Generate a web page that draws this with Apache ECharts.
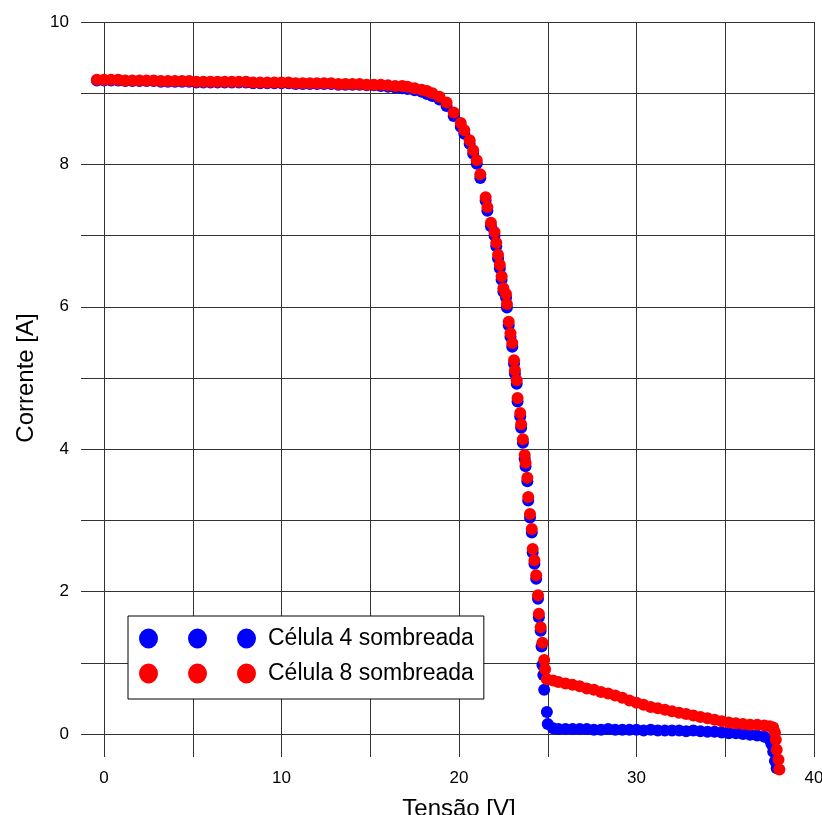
<!DOCTYPE html>
<html lang="pt">
<head>
    <meta charset="UTF-8">
    <title>Curva I-V</title>
    <script src="https://cdn.jsdelivr.net/npm/echarts@6/dist/echarts.min.js"></script>
    <style>
        html, body { margin: 0; padding: 0; background: #ffffff; }
        #chart { width: 822px; height: 815px; }
    </style>
</head>
<body>
<div id="chart"></div>
<script>
    // eixo x: tensao [V], eixo y: corrente [A]
    var xTicks = [0, 10, 20, 30, 40];
    var yTicks = [0, 2, 4, 6, 8, 10];
    var legendNames = ['Célula 4 sombreada', 'Célula 8 sombreada'];

    // Célula 4 sombreada (azul) - pares [V, A]
    var celula4 = [
        [-0.4, 9.18], [0.0, 9.18], [0.4, 9.18], [0.8, 9.18], [1.2, 9.17], [1.6, 9.17],
        [2.0, 9.17], [2.4, 9.17], [2.8, 9.17], [3.2, 9.16], [3.6, 9.16], [4.0, 9.16],
        [4.4, 9.16], [4.8, 9.16], [5.2, 9.15], [5.6, 9.15], [6.0, 9.15], [6.4, 9.15],
        [6.8, 9.15], [7.2, 9.15], [7.6, 9.15], [8.0, 9.15], [8.4, 9.14], [8.8, 9.14],
        [9.2, 9.14], [9.6, 9.14], [10.0, 9.14], [10.4, 9.14], [10.8, 9.13], [11.2, 9.13],
        [11.6, 9.13], [12.0, 9.13], [12.4, 9.13], [12.8, 9.13], [13.2, 9.12], [13.6, 9.12],
        [14.0, 9.12], [14.4, 9.12], [14.8, 9.11], [15.2, 9.11], [15.6, 9.10], [16.0, 9.09],
        [16.4, 9.08], [16.8, 9.07], [17.1, 9.06], [17.5, 9.04], [17.9, 9.02], [18.2, 8.99],
        [18.5, 8.96], [18.9, 8.91], [19.3, 8.82], [19.7, 8.68], [20.1, 8.53], [20.3, 8.43],
        [20.6, 8.29], [20.8, 8.15], [21.0, 8.01], [21.2, 7.81], [21.5, 7.49], [21.6, 7.35],
        [21.8, 7.13], [22.0, 7.00], [22.1, 6.85], [22.2, 6.68], [22.3, 6.54], [22.4, 6.38],
        [22.5, 6.21], [22.65, 6.13], [22.7, 5.99], [22.8, 5.74], [22.9, 5.58], [23.0, 5.44],
        [23.1, 5.20], [23.15, 5.06], [23.25, 4.92], [23.3, 4.67], [23.45, 4.46], [23.5, 4.30],
        [23.6, 4.09], [23.7, 3.87], [23.75, 3.76], [23.85, 3.55], [23.9, 3.28], [24.0, 3.04],
        [24.1, 2.83], [24.15, 2.55], [24.25, 2.39], [24.35, 2.18], [24.45, 1.90], [24.5, 1.64],
        [24.6, 1.45], [24.65, 1.23], [24.7, 0.97], [24.75, 0.83], [24.8, 0.62], [24.95, 0.31],
        [25.0, 0.14], [25.3, 0.08], [25.6, 0.07], [26.0, 0.07], [26.4, 0.07], [26.8, 0.07],
        [27.2, 0.07], [27.6, 0.06], [28.0, 0.06], [28.4, 0.07], [28.8, 0.06], [29.2, 0.06],
        [29.6, 0.06], [30.0, 0.06], [30.4, 0.05], [30.8, 0.06], [31.2, 0.05], [31.6, 0.05],
        [32.0, 0.05], [32.4, 0.05], [32.8, 0.04], [33.2, 0.05], [33.6, 0.04], [34.0, 0.03],
        [34.4, 0.03], [34.8, 0.02], [35.2, 0.01], [35.6, 0.01], [36.0, 0.00], [36.4, -0.01],
        [36.8, -0.02], [37.2, -0.04], [37.5, -0.08], [37.6, -0.14], [37.7, -0.25], [37.8, -0.38],
        [37.9, -0.48]
    ];

    // Célula 8 sombreada (vermelho) - pares [V, A]
    var celula8 = [
        [-0.4, 9.19], [0.0, 9.19], [0.4, 9.19], [0.8, 9.19], [1.2, 9.18], [1.6, 9.18],
        [2.0, 9.18], [2.4, 9.18], [2.8, 9.18], [3.2, 9.17], [3.6, 9.17], [4.0, 9.17],
        [4.4, 9.17], [4.8, 9.17], [5.2, 9.16], [5.6, 9.16], [6.0, 9.16], [6.4, 9.16],
        [6.8, 9.16], [7.2, 9.16], [7.6, 9.16], [8.0, 9.16], [8.4, 9.15], [8.8, 9.15],
        [9.2, 9.15], [9.6, 9.15], [10.0, 9.15], [10.4, 9.15], [10.8, 9.14], [11.2, 9.14],
        [11.6, 9.14], [12.0, 9.14], [12.4, 9.14], [12.8, 9.14], [13.2, 9.13], [13.6, 9.13],
        [14.0, 9.13], [14.4, 9.13], [14.8, 9.12], [15.2, 9.12], [15.6, 9.12], [16.0, 9.11],
        [16.4, 9.10], [16.8, 9.10], [17.1, 9.09], [17.5, 9.07], [17.9, 9.05], [18.2, 9.03],
        [18.5, 9.00], [18.9, 8.95], [19.3, 8.87], [19.7, 8.73], [20.1, 8.58], [20.3, 8.48],
        [20.6, 8.34], [20.8, 8.20], [21.0, 8.06], [21.2, 7.86], [21.5, 7.54], [21.6, 7.40],
        [21.8, 7.18], [22.0, 7.05], [22.1, 6.90], [22.2, 6.73], [22.3, 6.59], [22.4, 6.43],
        [22.5, 6.26], [22.65, 6.18], [22.7, 6.04], [22.8, 5.79], [22.9, 5.63], [23.0, 5.49],
        [23.1, 5.25], [23.15, 5.11], [23.25, 4.97], [23.3, 4.72], [23.45, 4.51], [23.5, 4.35],
        [23.6, 4.14], [23.7, 3.92], [23.75, 3.81], [23.85, 3.60], [23.9, 3.33], [24.0, 3.09],
        [24.1, 2.88], [24.15, 2.60], [24.25, 2.44], [24.35, 2.23], [24.45, 1.95], [24.5, 1.69],
        [24.6, 1.50], [24.7, 1.28], [24.8, 1.04], [24.85, 0.91], [24.95, 0.77], [25.3, 0.75],
        [25.6, 0.73], [26.0, 0.71], [26.4, 0.69], [26.8, 0.67], [27.2, 0.64], [27.6, 0.62],
        [28.0, 0.59], [28.4, 0.57], [28.8, 0.54], [29.2, 0.51], [29.6, 0.47], [30.0, 0.44],
        [30.4, 0.41], [30.8, 0.38], [31.2, 0.36], [31.6, 0.34], [32.0, 0.32], [32.4, 0.30],
        [32.8, 0.28], [33.2, 0.26], [33.6, 0.24], [34.0, 0.22], [34.4, 0.20], [34.8, 0.18],
        [35.2, 0.16], [35.6, 0.15], [36.0, 0.14], [36.4, 0.13], [36.8, 0.13], [37.2, 0.12],
        [37.5, 0.11], [37.7, 0.09], [37.8, 0.02], [37.85, -0.08], [37.9, -0.22], [38.0, -0.36],
        [38.05, -0.50]
    ];

    var fonte = "'Liberation Sans', Arial, sans-serif";
    // tres bolinhas no icone da legenda
    var iconeTres = 'path://M0,10A9.5,10,0,1,1,19,10A9.5,10,0,1,1,0,10Z' +
        'M49,10A9.5,10,0,1,1,68,10A9.5,10,0,1,1,49,10Z' +
        'M98,10A9.5,10,0,1,1,117,10A9.5,10,0,1,1,98,10Z';

    var chart = echarts.init(document.getElementById('chart'), null, {renderer: 'canvas'});

    var option = {
        backgroundColor: '#ffffff',
        animation: false,
        grid: {left: 104, right: 8, top: 22, bottom: 81, outerBoundsMode: 'none', containLabel: false},
        legend: {
            orient: 'vertical',
            left: 128,
            top: 616,
            data: legendNames,
            icon: iconeTres,
            itemWidth: 117,
            itemHeight: 20,
            itemGap: 12,
            padding: [11, 10, 14, 11],
            backgroundColor: '#ffffff',
            borderColor: '#000000',
            borderWidth: 1,
            borderRadius: 0,
            selectedMode: false,
            textStyle: {
                fontFamily: fonte,
                fontSize: 23,
                color: '#000000',
                padding: [0, 0, 0, 7]
            }
        },
        xAxis: {
            type: 'value',
            min: 0,
            max: 40,
            interval: 5,
            name: 'Tensão [V]',
            nameLocation: 'middle',
            nameGap: 63,
            nameTextStyle: {fontFamily: fonte, fontSize: 24, color: '#000000'},
            axisLine: {show: false},
            axisTick: {show: true, length: 23, lineStyle: {color: '#333333', width: 1}},
            splitLine: {show: true, lineStyle: {color: '#333333', width: 1}},
            axisLabel: {
                fontFamily: fonte,
                fontSize: 17,
                color: '#000000',
                margin: 36,
                formatter: function (v) {
                    return xTicks.indexOf(v) >= 0 ? String(v) : '';
                }
            }
        },
        yAxis: {
            type: 'value',
            min: 0,
            max: 10,
            interval: 1,
            name: 'Corrente [A]',
            nameLocation: 'middle',
            nameGap: 66,
            nameTextStyle: {fontFamily: fonte, fontSize: 24, color: '#000000'},
            axisLine: {show: false},
            axisTick: {show: true, length: 23, lineStyle: {color: '#333333', width: 1}},
            splitLine: {show: true, lineStyle: {color: '#333333', width: 1}},
            axisLabel: {
                fontFamily: fonte,
                fontSize: 17,
                color: '#000000',
                margin: 35,
                formatter: function (v) {
                    return yTicks.indexOf(v) >= 0 ? String(v) : '';
                }
            }
        },
        series: [
            {
                name: legendNames[0],
                type: 'scatter',
                data: celula4,
                symbol: 'circle',
                symbolSize: 12,
                clip: false,
                itemStyle: {color: '#0000ff', opacity: 1}
            },
            {
                name: legendNames[1],
                type: 'scatter',
                data: celula8,
                symbol: 'circle',
                symbolSize: 12,
                clip: false,
                itemStyle: {color: '#ff0000', opacity: 1}
            }
        ]
    };

    chart.setOption(option);
</script>
</body>
</html>
